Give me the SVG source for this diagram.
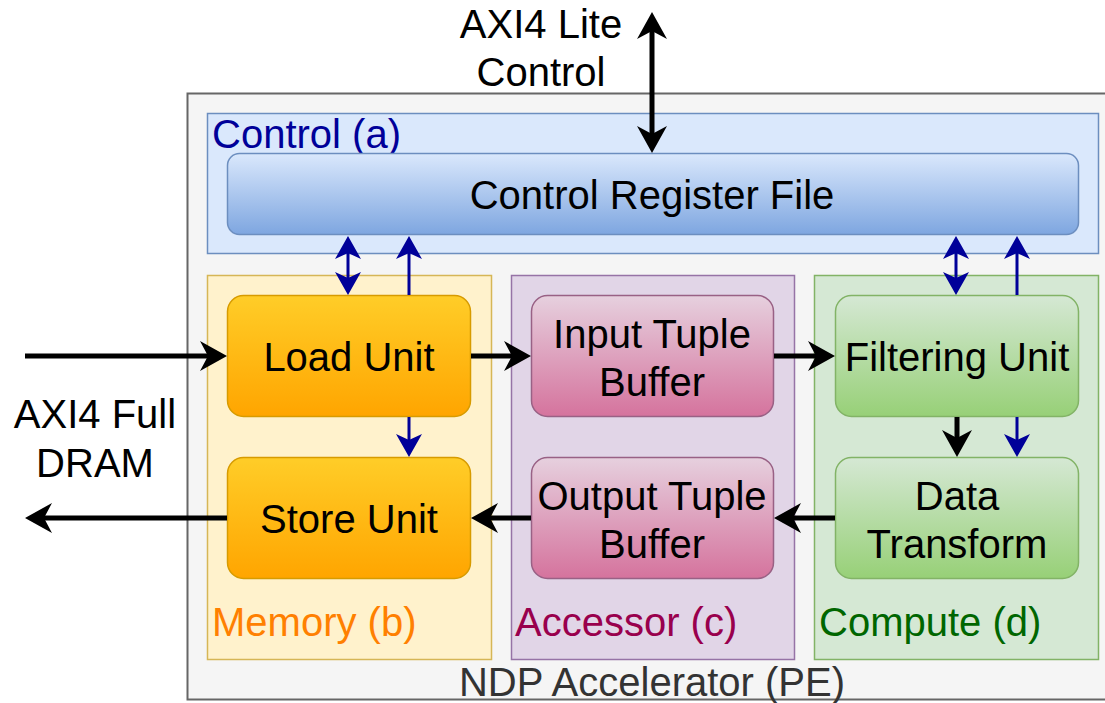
<svg xmlns="http://www.w3.org/2000/svg" width="1105" height="703" viewBox="0 0 1105 703">
<style>
text{font-family:"Liberation Sans",Arial,sans-serif;font-size:40px;fill:#000}
.c{text-anchor:middle}
.blk{stroke:#000;stroke-width:5;fill:none}
.blu{stroke:#000099;stroke-width:3;fill:none}
</style>
<defs>
<linearGradient id="gBlue" x1="0" y1="0" x2="0" y2="1"><stop offset="0" stop-color="#dae8fc"/><stop offset="1" stop-color="#7ea6e0"/></linearGradient>
<linearGradient id="gOrange" x1="0" y1="0" x2="0" y2="1"><stop offset="0" stop-color="#ffcd28"/><stop offset="1" stop-color="#ffa500"/></linearGradient>
<linearGradient id="gPink" x1="0" y1="0" x2="0" y2="1"><stop offset="0" stop-color="#e6d0de"/><stop offset="1" stop-color="#d5739d"/></linearGradient>
<linearGradient id="gGreen" x1="0" y1="0" x2="0" y2="1"><stop offset="0" stop-color="#d5e8d4"/><stop offset="1" stop-color="#97d077"/></linearGradient>
<marker id="aBlk" markerUnits="userSpaceOnUse" markerWidth="30" markerHeight="30" refX="19" refY="15" orient="auto-start-reverse" overflow="visible"><path d="M0,0 L27,15 L0,30 L8,15 Z" fill="#000"/></marker>
<marker id="aBlu" markerUnits="userSpaceOnUse" markerWidth="26" markerHeight="26" refX="17" refY="13" orient="auto-start-reverse" overflow="visible"><path d="M0,0 L23,13 L0,26 L6,13 Z" fill="#000099"/></marker>
</defs>

<g id="pe">
<rect x="187.5" y="93.5" width="930" height="606" fill="#f5f5f5" stroke="#666666" stroke-width="2"/>
<text class="c" x="652" y="696" style="fill:#333333">NDP Accelerator (PE)</text>
</g>

<g id="control">
<rect x="207.5" y="113.5" width="891" height="140" fill="#dae8fc" stroke="#6c8ebf" stroke-width="1.5"/>
<text x="212" y="148" style="fill:#000099">Control (a)</text>
</g>
<g id="memory">
<rect x="207.5" y="275.5" width="284" height="384" fill="#fff2cc" stroke="#d6b656" stroke-width="1.5"/>
<text x="212" y="636" style="fill:#ff8000">Memory (b)</text>
</g>
<g id="accessor">
<rect x="511.5" y="275.5" width="283" height="384" fill="#e1d5e7" stroke="#9673a6" stroke-width="1.5"/>
<text x="515" y="636" style="fill:#99004d">Accessor (c)</text>
</g>
<g id="compute">
<rect x="814.5" y="275.5" width="284" height="384" fill="#d5e8d4" stroke="#82b366" stroke-width="1.5"/>
<text x="819" y="636" style="fill:#006600">Compute (d)</text>
</g>

<g id="crf">
<rect x="227.5" y="153.5" width="851" height="81" rx="12" fill="url(#gBlue)" stroke="#6c8ebf" stroke-width="1.5"/>
<text class="c" x="652" y="209">Control Register File</text>
</g>
<g id="load">
<rect x="227.5" y="295.5" width="243" height="121" rx="16" fill="url(#gOrange)" stroke="#d79b00" stroke-width="1.5"/>
<text class="c" x="349" y="371">Load Unit</text>
</g>
<g id="store">
<rect x="227.5" y="457.5" width="243" height="121" rx="16" fill="url(#gOrange)" stroke="#d79b00" stroke-width="1.5"/>
<text class="c" x="349" y="533">Store Unit</text>
</g>
<g id="itb">
<rect x="531.5" y="295.5" width="242" height="121" rx="16" fill="url(#gPink)" stroke="#996185" stroke-width="1.5"/>
<text class="c" x="652" y="348">Input Tuple</text>
<text class="c" x="652" y="396">Buffer</text>
</g>
<g id="otb">
<rect x="531.5" y="457.5" width="242" height="121" rx="16" fill="url(#gPink)" stroke="#996185" stroke-width="1.5"/>
<text class="c" x="652" y="510">Output Tuple</text>
<text class="c" x="652" y="558">Buffer</text>
</g>
<g id="filter">
<rect x="835.5" y="295.5" width="243" height="121" rx="16" fill="url(#gGreen)" stroke="#82b366" stroke-width="1.5"/>
<text class="c" x="957" y="371">Filtering Unit</text>
</g>
<g id="transform">
<rect x="835.5" y="457.5" width="243" height="121" rx="16" fill="url(#gGreen)" stroke="#82b366" stroke-width="1.5"/>
<text class="c" x="957" y="510">Data</text>
<text class="c" x="957" y="558">Transform</text>
</g>

<g id="axilite">
<text class="c" x="541" y="38">AXI4 Lite</text>
<text class="c" x="541" y="86">Control</text>
</g>
<g id="axifull">
<text class="c" x="95" y="428">AXI4 Full</text>
<text class="c" x="95" y="477">DRAM</text>
</g>

<g id="connectors">
<line class="blk" x1="652" y1="20" x2="652" y2="145" marker-start="url(#aBlk)" marker-end="url(#aBlk)"/>
<line class="blk" x1="25" y1="356" x2="219" y2="356" marker-end="url(#aBlk)"/>
<line class="blk" x1="227" y1="518" x2="33" y2="518" marker-end="url(#aBlk)"/>
<line class="blk" x1="471" y1="356" x2="523" y2="356" marker-end="url(#aBlk)"/>
<line class="blk" x1="774" y1="356" x2="827" y2="356" marker-end="url(#aBlk)"/>
<line class="blk" x1="835" y1="518" x2="782" y2="518" marker-end="url(#aBlk)"/>
<line class="blk" x1="531" y1="518" x2="479" y2="518" marker-end="url(#aBlk)"/>
<line class="blk" x1="957" y1="417" x2="957" y2="449" marker-end="url(#aBlk)"/>
<line class="blu" x1="348" y1="242" x2="348" y2="289" marker-start="url(#aBlu)" marker-end="url(#aBlu)"/>
<line class="blu" x1="409" y1="295" x2="409" y2="242" marker-end="url(#aBlu)"/>
<line class="blu" x1="956" y1="242" x2="956" y2="289" marker-start="url(#aBlu)" marker-end="url(#aBlu)"/>
<line class="blu" x1="1017" y1="295" x2="1017" y2="242" marker-end="url(#aBlu)"/>
<line class="blu" x1="409" y1="417" x2="409" y2="451" marker-end="url(#aBlu)"/>
<line class="blu" x1="1017" y1="417" x2="1017" y2="451" marker-end="url(#aBlu)"/>
</g>
</svg>
